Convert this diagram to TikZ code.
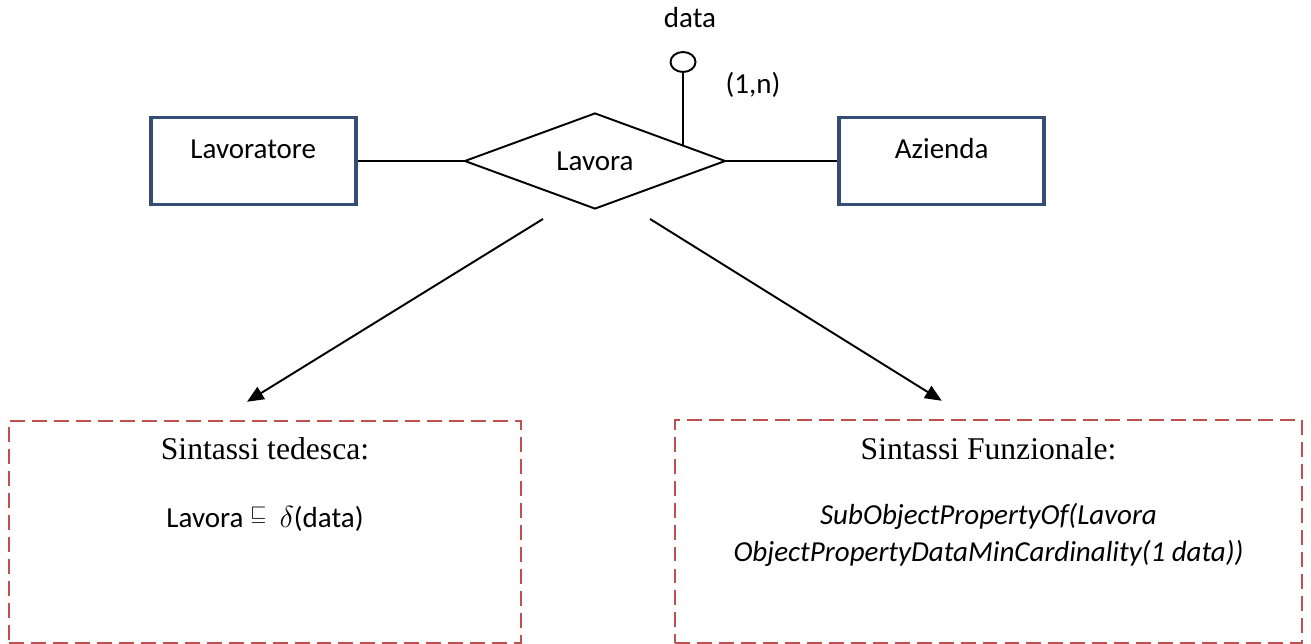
\documentclass[tikz,border=0pt]{standalone}
\usepackage{fontspec}
\setmainfont{Liberation Serif}
\setsansfont{Carlito}
\usepackage{tikz}
\usetikzlibrary{shapes.geometric, arrows.meta, positioning, calc}
\definecolor{entityBlue}{RGB}{52, 77, 117}
\definecolor{syntaxRed}{RGB}{192, 80, 77}
\tikzset{
    % Base ER Styles
    erText/.style={font=\sffamily\fontsize{16.5}{21}\selectfont},
    entityBox/.style={
        erText,
        rectangle,
        minimum width=4.1cm,
        minimum height=1.74cm,
        text height=11.4pt,
        text depth=14.2pt,
        draw=entityBlue,
        line width=2pt
    },
    relDiamond/.style={erText, diamond, minimum width=5.22cm, minimum height=1.92cm, inner sep=0pt, draw=black, line width=1.1pt},
    attrCircle/.style={ellipse, minimum width=0.5cm, minimum height=0.4cm, inner sep=0pt, draw=black, line width=1.1pt},
    % Syntax Box Styles
    syntaxBox/.style={rectangle, draw=syntaxRed, line width=1.4pt, dash pattern=on 8.5pt off 4pt},
    syntaxTitle/.style={font=\rmfamily\fontsize{18}{22}\selectfont},
    % Arrow & Line Styles
    connector/.style={draw=black, line width=1.1pt},
    arrow/.style={-{Triangle[length=9.5pt, width=8pt]}, connector}
}
\begin{document}
\begin{tikzpicture}[node distance=2.12cm]

    \useasboundingbox (0,0) rectangle (26.22,-12.88);

    % --- ER PART ---
    \node (lavora) [relDiamond] at (11.90,-3.22) {Lavora};
    \node (lavoratore) [entityBox, left=2.12cm of lavora] {Lavoratore};
    \node (azienda) [entityBox, right=2.22cm of lavora] {Azienda};

    % attribute of the relationship
    \node (dataAttr) [attrCircle] at (13.66,-1.24) {};
    \node (dataLabel) [erText] at (13.80,-0.36) {data};
    \node (cardLabel) [erText] at (15.06,-1.70) {(1,n)};
    \coordinate (attrFoot) at ($(lavora.north)!0.677!(lavora.east)$);

    \draw [connector] (lavoratore) -- (lavora);
    \draw [connector] (lavora) -- (azienda);
    \draw [connector] (dataAttr.south) -- (dataAttr.south |- attrFoot);

    % --- SYNTAX BOXES ---
    \node (tedescaBox) [syntaxBox, minimum width=10.24cm, minimum height=4.44cm] at (5.30,-10.64) {};
    \node (tedescaTitle) [syntaxTitle] at ($(tedescaBox.north)+(0,-0.58)$) {Sintassi tedesca:};
    \node (tedescaFormula) [erText] at ($(tedescaBox.north)+(0,-1.98)$) {Lavora~\raisebox{4pt}{$\scriptstyle\sqsubseteq$}\ \ $\delta$(data)};

    \node (funzBox) [syntaxBox, minimum width=12.54cm, minimum height=4.46cm] at (19.77,-10.63) {};
    \node (funzTitle) [syntaxTitle] at ($(funzBox.north)+(0,-0.60)$) {Sintassi Funzionale:};
    \node (funzFormula) [erText, align=center, font=\sffamily\itshape\fontsize{16.5}{21}\selectfont] at ($(funzBox.north)+(0,-2.33)$) {SubObjectPropertyOf(Lavora\\ObjectPropertyDataMinCardinality(1 data))};

    % --- Arrows ---
    \coordinate (tailL) at ($(lavora.south)+(-1.04,-0.18)$);
    \coordinate (headL) at ($(tedescaBox.north)+(-0.36,0.36)$);
    \coordinate (tailR) at ($(lavora.south)+(1.10,-0.18)$);
    \coordinate (headR) at ($(funzBox.north west)+(5.36,0.36)$);
    \draw [arrow] (tailL) -- (headL);
    \draw [arrow] (tailR) -- (headR);

\end{tikzpicture}
\end{document}
